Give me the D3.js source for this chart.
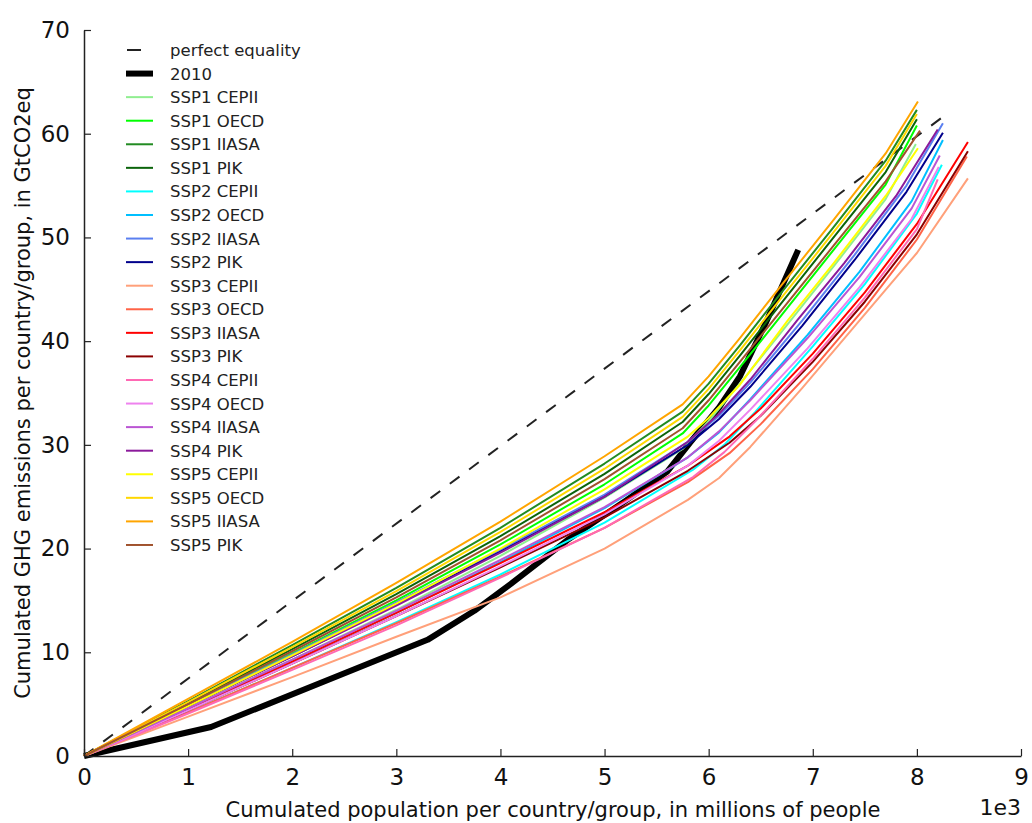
<!DOCTYPE html>
<meta charset="utf-8">
<style>
    body {
        margin: 0;
        background: #fff;
        overflow: hidden;
    }
    text {
        font-family: "DejaVu Sans", sans-serif;
    }
</style>
<svg id="canvas" width="1032" height="823"></svg>
<script src="https://d3js.org/d3.v7.min.js"></script>
<script>

    // population in millions of people, emissions in GtCO2eq
    var equality = [[0, 0], [8260, 61.7]];
    var y2010 = [[0, 0], [1220, 2.8], [3300, 11.2], [3750, 14.0], [4100, 16.6], [4640, 20.8], [5200, 24.6],
                 [5600, 27.4], [5820, 30.2], [6100, 33.6], [6300, 36.6], [6550, 41.8], [6860, 48.8]];

    var ssp1Cepii = [[0, 0], [1000, 4.6], [2000, 9.3], [3000, 14.1], [4000, 19.3], [5000, 24.9], [5750, 29.6], [6000, 32.3], [6300, 35.9], [6700, 40.9], [7200, 47.2], [7700, 53.7], [7990, 59.0]];
    var ssp1Oecd  = [[0, 0], [1000, 4.9], [2000, 9.9], [3000, 15.0], [4000, 20.4], [5000, 26.2], [5750, 31.1], [6000, 33.8], [6300, 37.5], [6700, 42.5], [7200, 48.8], [7700, 55.1], [8000, 60.8]];
    var ssp1Iiasa = [[0, 0], [1000, 5.3], [2000, 10.7], [3000, 16.2], [4000, 22.0], [5000, 28.2], [5750, 33.2], [6000, 35.9], [6300, 39.6], [6700, 44.7], [7200, 51.0], [7700, 57.4], [8000, 62.3]];
    var ssp1Pik   = [[0, 0], [1000, 5.1], [2000, 10.3], [3000, 15.6], [4000, 21.2], [5000, 27.2], [5750, 32.2], [6000, 34.9], [6300, 38.6], [6700, 43.7], [7200, 50.0], [7700, 56.3], [8000, 61.4]];

    var ssp2Cepii = [[0, 0], [1000, 4.2], [2000, 8.5], [3000, 12.9], [4000, 17.5], [5000, 22.5], [5850, 27.6], [6150, 30.0], [6450, 33.2], [7000, 39.5], [7500, 45.5], [8000, 52.3], [8240, 57.0]];
    var ssp2Oecd  = [[0, 0], [1000, 4.5], [2000, 9.1], [3000, 13.8], [4000, 18.7], [5000, 23.9], [5800, 28.8], [6100, 31.2], [6400, 34.4], [6950, 40.6], [7450, 46.7], [7950, 53.5], [8250, 59.4]];
    var ssp2Iiasa = [[0, 0], [1000, 4.9], [2000, 9.8], [3000, 14.8], [4000, 19.9], [5000, 25.2], [5800, 30.3], [6100, 32.8], [6400, 36.0], [6900, 42.0], [7400, 48.3], [7900, 55.0], [8250, 61.0]];
    var ssp2Pik   = [[0, 0], [1000, 4.8], [2000, 9.6], [3000, 14.6], [4000, 19.7], [5000, 25.0], [5800, 30.0], [6100, 32.5], [6400, 35.6], [6900, 41.5], [7400, 47.8], [7900, 54.4], [8250, 60.1]];

    var ssp3Cepii = [[0, 0], [1000, 3.8], [2000, 7.6], [3000, 11.5], [4000, 15.3], [5000, 20.0], [5800, 24.7], [6100, 26.8], [6400, 29.8], [6900, 35.5], [7450, 42.0], [8000, 48.5], [8490, 55.7]];
    var ssp3Oecd  = [[0, 0], [1000, 4.2], [2000, 8.5], [3000, 12.8], [4000, 17.3], [5000, 22.0], [5800, 26.4], [6200, 29.2], [6500, 32.0], [7000, 37.3], [7500, 43.2], [8000, 49.8], [8480, 57.8]];
    var ssp3Iiasa = [[0, 0], [1000, 4.5], [2000, 9.1], [3000, 13.8], [4000, 18.6], [5000, 23.5], [5800, 28.0], [6200, 30.8], [6500, 33.5], [7000, 38.8], [7500, 44.7], [8000, 51.3], [8490, 59.2]];
    var ssp3Pik   = [[0, 0], [1000, 4.4], [2000, 8.9], [3000, 13.5], [4000, 18.2], [5000, 23.0], [5800, 27.5], [6200, 30.2], [6500, 32.8], [7000, 38.0], [7500, 43.8], [8000, 50.3], [8490, 58.3]];

    var ssp4Cepii = [[0, 0], [1000, 4.1], [2000, 8.3], [3000, 12.6], [4000, 17.2], [5000, 22.0], [5850, 26.9], [6150, 29.3], [6450, 32.3], [7000, 38.3], [7500, 44.2], [8000, 50.8], [8200, 55.6]];
    var ssp4Oecd  = [[0, 0], [1000, 4.4], [2000, 8.9], [3000, 13.5], [4000, 18.3], [5000, 23.3], [5800, 28.0], [6100, 30.4], [6400, 33.4], [6950, 39.3], [7450, 45.2], [7950, 51.8], [8210, 56.8]];
    var ssp4Iiasa = [[0, 0], [1000, 4.6], [2000, 9.3], [3000, 14.0], [4000, 18.9], [5000, 24.0], [5800, 28.8], [6100, 31.3], [6400, 34.3], [6950, 40.3], [7450, 46.2], [7950, 52.8], [8220, 57.9]];
    var ssp4Pik   = [[0, 0], [1000, 4.8], [2000, 9.6], [3000, 14.5], [4000, 19.6], [5000, 25.0], [5800, 30.3], [6100, 33.0], [6400, 36.3], [6850, 42.0], [7300, 47.5], [7800, 54.0], [8200, 60.4]];

    var ssp5Cepii = [[0, 0], [1000, 4.8], [2000, 9.7], [3000, 14.7], [4000, 20.0], [5000, 25.7], [5800, 30.8], [6000, 32.6], [6300, 35.8], [6760, 42.0], [7200, 47.5], [7700, 54.0], [8010, 58.6]];
    var ssp5Oecd  = [[0, 0], [1000, 5.2], [2000, 10.5], [3000, 15.9], [4000, 21.6], [5000, 27.7], [5750, 32.7], [6000, 35.4], [6300, 39.1], [6700, 44.2], [7200, 50.5], [7700, 56.9], [8000, 61.9]];
    var ssp5Iiasa = [[0, 0], [1000, 5.5], [2000, 11.0], [3000, 16.7], [4000, 22.6], [5000, 28.9], [5750, 33.9], [6000, 36.6], [6300, 40.3], [6700, 45.4], [7200, 51.7], [7700, 58.1], [8010, 63.1]];
    var ssp5Pik   = [[0, 0], [1000, 5.0], [2000, 10.1], [3000, 15.3], [4000, 20.8], [5000, 26.7], [5750, 31.6], [6000, 34.3], [6300, 38.0], [6700, 43.0], [7200, 49.2], [7700, 55.4], [8030, 60.3]];

    var sspNames = ["SSP1 CEPII", "SSP1 OECD", "SSP1 IIASA", "SSP1 PIK",
                    "SSP2 CEPII", "SSP2 OECD", "SSP2 IIASA", "SSP2 PIK",
                    "SSP3 CEPII", "SSP3 OECD", "SSP3 IIASA", "SSP3 PIK",
                    "SSP4 CEPII", "SSP4 OECD", "SSP4 IIASA", "SSP4 PIK",
                    "SSP5 CEPII", "SSP5 OECD", "SSP5 IIASA", "SSP5 PIK"];
    var sspData = [ssp1Cepii, ssp1Oecd, ssp1Iiasa, ssp1Pik,
                   ssp2Cepii, ssp2Oecd, ssp2Iiasa, ssp2Pik,
                   ssp3Cepii, ssp3Oecd, ssp3Iiasa, ssp3Pik,
                   ssp4Cepii, ssp4Oecd, ssp4Iiasa, ssp4Pik,
                   ssp5Cepii, ssp5Oecd, ssp5Iiasa, ssp5Pik];
    var sspColors = ["#90ee90", "#00ff00", "#228b22", "#0b640b",
                     "#00ffff", "#00bfff", "#5a7ff0", "#00008b",
                     "#ffa07a", "#ff6347", "#ff0000", "#8b0000",
                     "#ff69b4", "#ee82ee", "#ba55d3", "#8b1a9b",
                     "#ffff00", "#ffd700", "#ffa500", "#a0522d"];

    var xTicks = [0, 1000, 2000, 3000, 4000, 5000, 6000, 7000, 8000, 9000];
    var yTicks = [0, 10, 20, 30, 40, 50, 60, 70];

    var svg = d3.select("svg");

    var x = d3.scaleLinear().domain([0, 9000]).range([84, 1021]);
    var y = d3.scaleLinear().domain([0, 70]).range([756, 30]);

    var line = d3.line()
                 .x(function(d) { return x(d[0]); })
                 .y(function(d) { return y(d[1]); });

    // lines, drawn in legend order
    svg.append("path")
       .attr("d", line(equality))
       .attr("fill", "none")
       .attr("stroke", "#222")
       .attr("stroke-width", 2)
       .attr("stroke-dasharray", "12,12");

    svg.append("path")
       .attr("d", line(y2010))
       .attr("fill", "none")
       .attr("stroke", "#000")
       .attr("stroke-width", 6)
       .attr("stroke-linejoin", "round");

    svg.append("g")
       .selectAll("path")
       .data(sspData)
       .enter().append("path")
       .attr("d", function(d) { return line(d); })
       .attr("fill", "none")
       .attr("stroke", function(d, i) { return sspColors[i]; })
       .attr("stroke-width", 2)
       .attr("stroke-linejoin", "round");

    // axes: only left and bottom spines, ticks pointing in
    var xAxis = d3.axisBottom(x).tickValues(xTicks).tickSizeInner(-7).tickSizeOuter(0).tickPadding(13)
                  .tickFormat(function(d) { return d / 1000; });
    var yAxis = d3.axisLeft(y).tickValues(yTicks).tickSizeInner(-7).tickSizeOuter(0).tickPadding(14);

    var gx = svg.append("g").attr("transform", "translate(0,756)").call(xAxis);
    var gy = svg.append("g").attr("transform", "translate(84,0)").call(yAxis);

    [gx, gy].forEach(function(g) {
        g.select(".domain").attr("stroke", "#222").attr("stroke-width", 1.5);
        g.selectAll(".tick line").attr("stroke", "#222").attr("stroke-width", 1.2);
        g.selectAll(".tick text")
         .attr("font-family", "DejaVu Sans")
         .attr("font-size", 23)
         .attr("fill", "#111");
    });

    svg.append("text")
       .attr("x", 1021)
       .attr("y", 815)
       .attr("text-anchor", "end")
       .attr("font-size", 22)
       .attr("fill", "#111")
       .text("1e3");

    svg.append("text")
       .attr("x", 553)
       .attr("y", 817)
       .attr("text-anchor", "middle")
       .attr("font-size", 21)
       .attr("fill", "#111")
       .text("Cumulated population per country/group, in millions of people");

    svg.append("text")
       .attr("transform", "translate(30,393) rotate(-90)")
       .attr("text-anchor", "middle")
       .attr("font-size", 21)
       .attr("fill", "#111")
       .text("Cumulated GHG emissions per country/group, in GtCO2eq");

    // legend, no frame
    var legendNames = ["perfect equality", "2010"].concat(sspNames);
    var legend = svg.append("g")
                    .selectAll("g")
                    .data(legendNames)
                    .enter().append("g")
                    .attr("transform", function(d, i) { return "translate(0," + (50 + i * 23.57) + ")"; });

    legend.append("line")
          .attr("x1", function(d, i) { return i === 0 ? 127 : 126; })
          .attr("x2", function(d, i) { return i === 0 ? 141 : 153; })
          .attr("stroke", function(d, i) { return i === 0 ? "#222" : i === 1 ? "#000" : sspColors[i - 2]; })
          .attr("stroke-width", function(d, i) { return i === 1 ? 6 : 2; });

    legend.append("text")
          .attr("x", 170)
          .attr("y", 6)
          .attr("font-size", 16.5)
          .attr("fill", "#222")
          .text(function(d) { return d; });

</script>
